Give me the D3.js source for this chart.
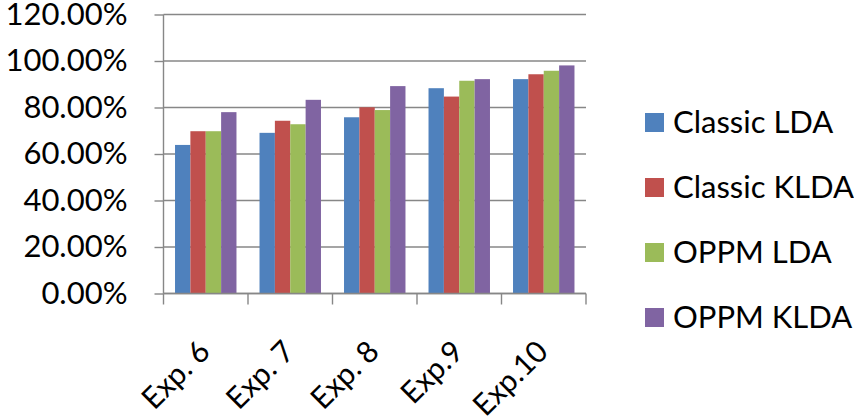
<!DOCTYPE html>
<html><head><meta charset="utf-8">
<script src="https://cdn.jsdelivr.net/npm/d3@7"></script>
<style>
html,body{margin:0;padding:0;background:#fff;}
svg{display:block;}
text{font-family:Lato, "Open Sans", sans-serif;fill:#000;}
</style></head>
<body>
<svg id="c" width="854" height="420"></svg>
<script>
const categories = ["Exp. 6","Exp. 7","Exp. 8","Exp.9","Exp.10"];
const seriesNames = ["Classic LDA","Classic KLDA","OPPM LDA","OPPM KLDA"];
const classicLDA  = [0.639,0.691,0.758,0.883,0.922];
const classicKLDA = [0.698,0.743,0.801,0.847,0.943];
const oppmLDA     = [0.698,0.728,0.789,0.915,0.958];
const oppmKLDA    = [0.780,0.833,0.892,0.922,0.981];
const yTicks = [0,0.2,0.4,0.6,0.8,1.0,1.2];
const colors = ["#4F81BD","#C0504D","#9BBB59","#8064A2"];
const seriesValues = [classicLDA, classicKLDA, oppmLDA, oppmKLDA];

const svg = d3.select("#c");
const pLeft = 163.5, pRight = 586, pTop = 14.5, pBottom = 293.5;
const gridColor = "#878787";

const y = d3.scaleLinear().domain([0,1.2]).range([pBottom, pTop]);
const x = d3.scaleBand().domain(categories).range([pLeft, pRight]).paddingInner(0).paddingOuter(0);
// Excel gap width 150%: bar width = band/5.5, each side gap 0.75 bar
const barW = x.bandwidth()/5.5;

// gridlines
svg.append("g").selectAll("line").data(yTicks).join("line")
  .attr("x1", pLeft).attr("x2", pRight)
  .attr("y1", d=>y(d)).attr("y2", d=>y(d))
  .attr("stroke", gridColor).attr("stroke-width", 1.4);

// bars
const g = svg.append("g");
seriesValues.forEach((vals, si) => {
  g.append("g").selectAll("rect").data(vals).join("rect")
    .attr("x", (d,i) => x(categories[i]) + barW*0.75 + si*barW)
    .attr("y", d => y(d))
    .attr("width", barW)
    .attr("height", d => y(0) - y(d))
    .attr("fill", colors[si]);
});

// y axis
const yAxis = d3.axisLeft(y).tickValues(yTicks).tickSize(9).tickPadding(27)
  .tickFormat(d => (d*100).toFixed(2) + "%");
const ya = svg.append("g").attr("transform", `translate(${pLeft},0)`).call(yAxis);
ya.select(".domain").attr("stroke", gridColor).attr("stroke-width", 1.4).attr("d", `M0,${pTop}V${pBottom}`);
ya.selectAll(".tick line").attr("stroke", gridColor).attr("stroke-width", 1.4);
ya.selectAll("text").attr("font-size", 31).attr("font-family", "Lato").attr("fill","#000").attr("dy","0.32em");

// x axis with ticks at category boundaries
const xa = svg.append("g").attr("transform", `translate(0,${pBottom})`);
xa.append("line").attr("x1", pLeft).attr("x2", pRight).attr("y1",0).attr("y2",0)
  .attr("stroke", gridColor).attr("stroke-width", 1.4);
const bounds = categories.map(c => x(c)).concat([pRight]);
xa.selectAll("line.tk").data(bounds).join("line").attr("class","tk")
  .attr("x1", d=>d).attr("x2", d=>d).attr("y1",0).attr("y2",11)
  .attr("stroke", gridColor).attr("stroke-width", 1.4);
xa.selectAll("text").data(categories).join("text")
  .attr("transform", d => `translate(${x(d)+x.bandwidth()/2+6},${60}) rotate(-45)`)
  .attr("text-anchor","end")
  .attr("font-size", 30)
  .text(d => d);

// legend
const lg = svg.append("g").attr("transform","translate(645,113)");
seriesNames.forEach((s, i) => {
  const row = lg.append("g").attr("transform", `translate(0,${i*65})`);
  row.append("rect").attr("width",19).attr("height",19).attr("fill",colors[i]);
  row.append("text").attr("x",28).attr("y",20).attr("font-size",31).text(s);
});
</script>
</body></html>
